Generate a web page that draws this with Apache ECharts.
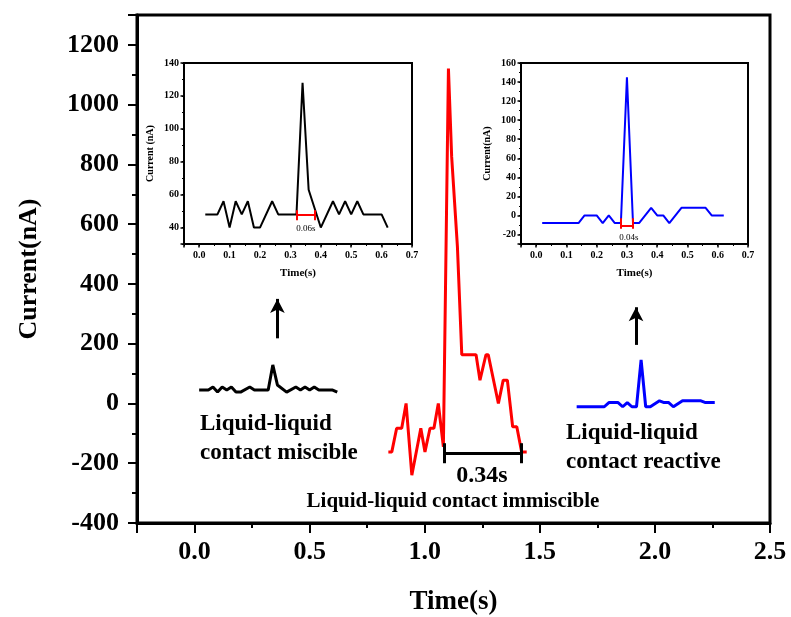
<!DOCTYPE html>
<html><head><meta charset="utf-8">
<script src="https://cdn.jsdelivr.net/npm/echarts@6/dist/echarts.min.js"></script>
<style>html,body{margin:0;padding:0;background:#fff}#c{width:791px;height:617px}</style>
</head><body><div id="c"></div>
<script>
const FONT = '"Liberation Serif","Times New Roman",serif';

// ---- main chart data ----
const redTime = [0.842,0.857,0.878,0.900,0.919,0.944,0.983,1.001,1.023,1.040,1.059,1.081,1.103,1.117,1.142,1.161,1.223,1.240,1.266,1.276,1.320,1.341,1.359,1.382,1.400,1.421,1.443];
const redCurrent = [-162,-162,-83,-83,0,-240,-83,-162,-83,-83,0,-145,1121,826,525,163,163,78,163,163,0,78,78,-78,-78,-162,-162];

const blackMainTime = [0.02,0.06,0.08,0.10,0.12,0.14,0.16,0.18,0.20,0.24,0.26,0.32,0.34,0.36,0.40,0.44,0.46,0.48,0.50,0.52,0.54,0.60,0.62];
const blackMainCurrent = [45,45,55,38,55,45,55,38,38,55,45,45,129,62,38,55,45,55,45,55,45,45,38];

const blueMainTime = [1.66,1.78,1.80,1.84,1.86,1.88,1.90,1.92,1.94,1.96,1.98,2.02,2.04,2.06,2.08,2.12,2.20,2.22,2.26];
const blueMainCurrent = [-11,-11,3,3,-11,3,-11,-11,146,-11,-11,9,3,3,-11,9,9,3,3];

// ---- inset data ----
const blackInsetTime = [0.02,0.06,0.08,0.10,0.12,0.14,0.16,0.18,0.20,0.24,0.26,0.32,0.34,0.36,0.40,0.44,0.46,0.48,0.50,0.52,0.54,0.60,0.62];
const blackInsetCurrent = [48,48,56,40,56,48,56,40,40,56,48,48,128,63,40,56,48,56,48,56,48,48,40];

const blueInsetTime = [0.02,0.14,0.16,0.20,0.22,0.24,0.26,0.28,0.30,0.32,0.34,0.38,0.40,0.42,0.44,0.48,0.56,0.58,0.62];
const blueInsetCurrent = [-8,-8,0,0,-8,0,-8,-8,145,-8,-8,8,0,0,-8,8,8,0,0];

// ---- annotation values (data space) ----
const mainBracket = {from: 1.084, to: 1.421, level: -166, capTop: -133, capBottom: -200};
const blackArrow = {t: 0.36, from: 218, to: 350};
const blueArrow = {t: 1.918, from: 196, to: 322};
const blackInsetBracket = {from: 0.32, to: 0.38, level: 47.5, capTop: 50.5, capBottom: 44.5};
const blueInsetBracket = {from: 0.28, to: 0.32, level: -11, capTop: -3, capBottom: -14};

// ---- axis label / tick steps ----
const mainXLabelStep = 0.5, mainXMinorStep = 0.25;
const mainYLabelStep = 200, mainYMinorStep = 100;
const insetXLabelStep = 0.1, insetXMinorStep = 0.05;
const insetYLabelStep = 20, insetYMinorStep = 10;

function pair(t, v) { return t.map((x, i) => [x, v[i]]); }
function isMult(v, step) { const r = v / step; return Math.abs(r - Math.round(r)) < 1e-6; }

function majorAxis(isX, grid, min, max, step, o) {
  return {gridIndex: grid, type: 'value', min, max, minInterval: step, maxInterval: step, position: isX ? 'bottom' : 'left',
    axisLine: {show: true, onZero: false, lineStyle: {color: '#000', width: o.lw}},
    axisTick: {show: true, length: o.tl, lineStyle: {color: '#000', width: o.tw}},
    axisLabel: {color: '#000', fontFamily: FONT, fontWeight: 'bold', fontSize: o.fs, margin: o.margin,
      formatter: v => (isMult(v, step) && v >= o.lmin - 1e-9 && v <= o.lmax + 1e-9) ? (isX ? v.toFixed(1) : String(Math.round(v))) : ''},
    splitLine: {show: false},
    name: o.name, nameLocation: 'middle', nameGap: o.gap,
    nameTextStyle: {color: '#000', fontFamily: FONT, fontWeight: 'bold', fontSize: o.nfs}};
}
function minorAxis(isX, grid, min, max, step, len, tw) {
  return {gridIndex: grid, type: 'value', min, max, interval: step, position: isX ? 'bottom' : 'left',
    axisLine: {show: false, onZero: false}, axisTick: {show: true, length: len, lineStyle: {color: '#000', width: tw}},
    axisLabel: {show: false}, splitLine: {show: false}};
}
function seg(a, b) { return [{coord: a}, {coord: b}]; }
function bracketLines(b) {
  return [seg([b.from, b.level], [b.to, b.level]), seg([b.from, b.capTop], [b.from, b.capBottom]), seg([b.to, b.capTop], [b.to, b.capBottom])];
}
const ins = {lw: 2, tl: 3.5, tw: 1.5, fs: 10, nfs: 10};

const chart = echarts.init(document.getElementById('c'));
const option = {
  animation: false,
  backgroundColor: '#fff',
  grid: [
    {left: 137, top: 15, width: 633, height: 508, show: true, borderColor: '#000', borderWidth: 3, containLabel: false, outerBoundsMode: 'none'},
    {left: 184, top: 63, width: 228, height: 181, show: true, borderColor: '#000', borderWidth: 2, backgroundColor: '#fff', containLabel: false, outerBoundsMode: 'none'},
    {left: 521, top: 63, width: 227, height: 181, show: true, borderColor: '#000', borderWidth: 2, backgroundColor: '#fff', containLabel: false, outerBoundsMode: 'none'}
  ],
  xAxis: [
    majorAxis(true, 0, -0.25, 2.5, mainXLabelStep, {lw: 3, tl: 10, tw: 2, fs: 26, margin: 16, lmin: 0, lmax: 2.5, name: 'Time(s)', gap: 66, nfs: 27}),
    minorAxis(true, 0, -0.25, 2.5, mainXMinorStep, 5, 2),
    majorAxis(true, 1, -0.05, 0.7, insetXLabelStep, Object.assign({}, ins, {margin: 6, lmin: 0, lmax: 0.7, name: 'Time(s)', gap: 24, nfs: 11})),
    minorAxis(true, 1, -0.05, 0.7, insetXMinorStep, 2, 1),
    majorAxis(true, 2, -0.05, 0.7, insetXLabelStep, Object.assign({}, ins, {margin: 6, lmin: 0, lmax: 0.7, name: 'Time(s)', gap: 24, nfs: 11})),
    minorAxis(true, 2, -0.05, 0.7, insetXMinorStep, 2, 1)
  ],
  yAxis: [
    majorAxis(false, 0, -400, 1300, mainYLabelStep, {lw: 3, tl: 9, tw: 2, fs: 26, margin: 18, lmin: -400, lmax: 1200, name: 'Current(nA)', gap: 95, nfs: 26}),
    minorAxis(false, 0, -400, 1300, mainYMinorStep, 5, 2),
    majorAxis(false, 1, 30, 140, insetYLabelStep, Object.assign({}, ins, {margin: 5, lmin: 40, lmax: 140, name: 'Current (nA)', gap: 29})),
    minorAxis(false, 1, 30, 140, insetYMinorStep, 2, 1),
    majorAxis(false, 2, -30, 160, insetYLabelStep, Object.assign({}, ins, {margin: 5, lmin: -20, lmax: 160, name: 'Current(nA)', gap: 29})),
    minorAxis(false, 2, -30, 160, insetYMinorStep, 2, 1)
  ],
  series: [
    {type: 'line', xAxisIndex: 0, yAxisIndex: 0, data: pair(blackMainTime, blackMainCurrent), symbol: 'none',
      lineStyle: {color: '#000', width: 3}, itemStyle: {color: '#000'},
      markLine: {silent: true, symbol: ['none', 'arrow'], symbolSize: [11, 14], label: {show: false},
        lineStyle: {color: '#000', width: 3, type: 'solid'},
        data: [seg([blackArrow.t, blackArrow.from], [blackArrow.t, blackArrow.to])]}},
    {type: 'line', xAxisIndex: 0, yAxisIndex: 0, data: pair(redTime, redCurrent), symbol: 'none',
      lineStyle: {color: '#ff0000', width: 3}, itemStyle: {color: '#ff0000'}},
    {type: 'line', xAxisIndex: 0, yAxisIndex: 0, data: pair(blueMainTime, blueMainCurrent), symbol: 'none',
      lineStyle: {color: '#0000ff', width: 3}, itemStyle: {color: '#0000ff'},
      markLine: {silent: true, symbol: ['none', 'arrow'], symbolSize: [11, 14], label: {show: false},
        lineStyle: {color: '#000', width: 3, type: 'solid'},
        data: [seg([blueArrow.t, blueArrow.from], [blueArrow.t, blueArrow.to])]}},
    {type: 'line', xAxisIndex: 0, yAxisIndex: 0, data: [], symbol: 'none',
      markLine: {silent: true, symbol: 'none', label: {show: false},
        lineStyle: {color: '#000', width: 3, type: 'solid'}, data: bracketLines(mainBracket)}},
    {type: 'line', xAxisIndex: 2, yAxisIndex: 2, data: pair(blackInsetTime, blackInsetCurrent), symbol: 'none',
      lineStyle: {color: '#000', width: 2}, itemStyle: {color: '#000'},
      markLine: {silent: true, symbol: 'none', label: {show: false},
        lineStyle: {color: '#ff0000', width: 2, type: 'solid'}, data: bracketLines(blackInsetBracket)}},
    {type: 'line', xAxisIndex: 4, yAxisIndex: 4, data: pair(blueInsetTime, blueInsetCurrent), symbol: 'none',
      lineStyle: {color: '#0000ff', width: 2}, itemStyle: {color: '#0000ff'},
      markLine: {silent: true, symbol: 'none', label: {show: false},
        lineStyle: {color: '#ff0000', width: 2, type: 'solid'}, data: bracketLines(blueInsetBracket)}}
  ],
  graphic: [
    {type: 'text', left: 200, top: 410, style: {text: 'Liquid-liquid\ncontact miscible', font: 'bold 23px ' + FONT, fill: '#000', lineHeight: 29}},
    {type: 'text', left: 566, top: 419, style: {text: 'Liquid-liquid\ncontact reactive', font: 'bold 23px ' + FONT, fill: '#000', lineHeight: 29}},
    {type: 'text', x: 482, y: 476, style: {text: '0.34s', font: 'bold 24px ' + FONT, fill: '#000', textAlign: 'center', textVerticalAlign: 'middle'}},
    {type: 'text', x: 453, y: 502, style: {text: 'Liquid-liquid contact immiscible', font: 'bold 21px ' + FONT, fill: '#000', textAlign: 'center', textVerticalAlign: 'middle'}},
    {type: 'text', x: 306, y: 229, style: {text: '0.06s', font: '9px ' + FONT, fill: '#000', textAlign: 'center', textVerticalAlign: 'middle'}},
    {type: 'text', x: 629, y: 238, style: {text: '0.04s', font: '9px ' + FONT, fill: '#000', textAlign: 'center', textVerticalAlign: 'middle'}}
  ]
};
chart.setOption(option);
</script>
</body></html>
